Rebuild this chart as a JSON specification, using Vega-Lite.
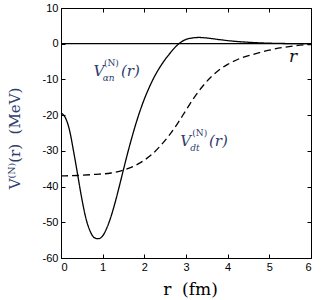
{
  "$schema": "https://vega.github.io/schema/vega-lite/v6.json",
  "width": 250,
  "height": 250,
  "autosize": "none",
  "padding": {"left": 61, "top": 8, "right": 16, "bottom": 42},
  "background": "white",
  "config": {
    "view": {"stroke": "#000", "strokeWidth": 1},
    "axis": {
      "grid": false,
      "domain": false,
      "tickColor": "#000",
      "tickSize": -4,
      "tickWidth": 1,
      "labelFont": "Liberation Sans",
      "labelFontSize": 11,
      "labelColor": "#000",
      "titleFont": "DejaVu Serif",
      "titleFontWeight": "normal",
      "titleColor": "#2e3d6e"
    }
  },
  "datasets": {
    "curves": [
      {"r": 0, "v": -19.5, "s": "an"},
      {"r": 0.05, "v": -19.8, "s": "an"},
      {"r": 0.1, "v": -20.6, "s": "an"},
      {"r": 0.2, "v": -24.0, "s": "an"},
      {"r": 0.3, "v": -30.0, "s": "an"},
      {"r": 0.4, "v": -36.7, "s": "an"},
      {"r": 0.5, "v": -43.4, "s": "an"},
      {"r": 0.6, "v": -49.0, "s": "an"},
      {"r": 0.7, "v": -52.5, "s": "an"},
      {"r": 0.8, "v": -54.3, "s": "an"},
      {"r": 0.9, "v": -54.6, "s": "an"},
      {"r": 1.0, "v": -53.8, "s": "an"},
      {"r": 1.1, "v": -51.6, "s": "an"},
      {"r": 1.2, "v": -48.4, "s": "an"},
      {"r": 1.3, "v": -44.4, "s": "an"},
      {"r": 1.4, "v": -39.9, "s": "an"},
      {"r": 1.5, "v": -35.2, "s": "an"},
      {"r": 1.6, "v": -30.6, "s": "an"},
      {"r": 1.7, "v": -26.3, "s": "an"},
      {"r": 1.8, "v": -22.3, "s": "an"},
      {"r": 1.9, "v": -18.7, "s": "an"},
      {"r": 2.0, "v": -15.5, "s": "an"},
      {"r": 2.1, "v": -12.7, "s": "an"},
      {"r": 2.2, "v": -10.2, "s": "an"},
      {"r": 2.3, "v": -8.0, "s": "an"},
      {"r": 2.4, "v": -6.1, "s": "an"},
      {"r": 2.5, "v": -4.4, "s": "an"},
      {"r": 2.6, "v": -2.9, "s": "an"},
      {"r": 2.7, "v": -1.5, "s": "an"},
      {"r": 2.8, "v": -0.3, "s": "an"},
      {"r": 2.9, "v": 0.6, "s": "an"},
      {"r": 3.0, "v": 1.2, "s": "an"},
      {"r": 3.15, "v": 1.6, "s": "an"},
      {"r": 3.3, "v": 1.75, "s": "an"},
      {"r": 3.5, "v": 1.6, "s": "an"},
      {"r": 3.8, "v": 1.15, "s": "an"},
      {"r": 4.1, "v": 0.75, "s": "an"},
      {"r": 4.5, "v": 0.4, "s": "an"},
      {"r": 4.9, "v": 0.18, "s": "an"},
      {"r": 5.3, "v": 0.07, "s": "an"},
      {"r": 5.7, "v": 0.02, "s": "an"},
      {"r": 6.0, "v": 0, "s": "an"},
      {"r": 0, "v": -37.0, "s": "dt"},
      {"r": 0.4, "v": -36.9, "s": "dt"},
      {"r": 0.8, "v": -36.6, "s": "dt"},
      {"r": 1.2, "v": -36.2, "s": "dt"},
      {"r": 1.5, "v": -35.4, "s": "dt"},
      {"r": 1.8, "v": -34.0, "s": "dt"},
      {"r": 2.0, "v": -32.6, "s": "dt"},
      {"r": 2.2, "v": -30.8, "s": "dt"},
      {"r": 2.4, "v": -28.4, "s": "dt"},
      {"r": 2.6, "v": -25.6, "s": "dt"},
      {"r": 2.8, "v": -22.3, "s": "dt"},
      {"r": 3.0, "v": -18.6, "s": "dt"},
      {"r": 3.2, "v": -15.0, "s": "dt"},
      {"r": 3.4, "v": -11.9, "s": "dt"},
      {"r": 3.6, "v": -9.3, "s": "dt"},
      {"r": 3.8, "v": -7.3, "s": "dt"},
      {"r": 4.0, "v": -5.8, "s": "dt"},
      {"r": 4.3, "v": -4.1, "s": "dt"},
      {"r": 4.7, "v": -2.7, "s": "dt"},
      {"r": 5.0, "v": -1.8, "s": "dt"},
      {"r": 5.3, "v": -1.1, "s": "dt"},
      {"r": 5.6, "v": -0.6, "s": "dt"},
      {"r": 6.0, "v": -0.2, "s": "dt"}
    ],
    "labels": [
      {"x": 0.78, "y": -9.0, "text": "V", "kind": "big"},
      {"x": 1.0, "y": -10.4, "text": "αn", "kind": "small"},
      {"x": 1.03, "y": -6.2, "text": "(N)", "kind": "smallup"},
      {"x": 1.44, "y": -9.0, "text": "(r)", "kind": "big"},
      {"x": 2.86, "y": -28.6, "text": "V", "kind": "big"},
      {"x": 3.1, "y": -30.0, "text": "dt", "kind": "small"},
      {"x": 3.15, "y": -25.8, "text": "(N)", "kind": "smallup"},
      {"x": 3.55, "y": -28.6, "text": "(r)", "kind": "big"},
      {"x": 5.47, "y": -5.1, "text": "r", "kind": "axis"}
    ]
  },
  "layer": [
    {
      "data": {"name": "curves"},
      "mark": {"type": "line", "color": "#000", "strokeWidth": 1.3, "interpolate": "monotone"},
      "encoding": {
        "x": {
          "field": "r", "type": "quantitative",
          "scale": {"domain": [0, 6], "nice": false, "zero": false},
          "axis": {"values": [0, 1, 2, 3, 4, 5, 6], "labelPadding": 7, "title": "r\u00a0\u00a0(fm)", "titleFontSize": 17, "titleFontWeight": "normal", "titleColor": "#000", "titleX": 129, "titleY": 36, "titleBaseline": "alphabetic"}
        },
        "y": {
          "field": "v", "type": "quantitative",
          "scale": {"domain": [-60, 10], "nice": false, "zero": false},
          "axis": {"values": [-60, -50, -40, -30, -20, -10, 0, 10], "labelPadding": 7, "labelExpr": "replace(datum.label, '−', '-')", "title": "V⁽ᴺ⁾(r)\u00a0\u00a0(MeV)", "titleFontSize": 15, "titleFontWeight": "normal", "titleX": -42, "titleY": 130, "titleBaseline": "alphabetic", "titleAlign": "center"}
        },
        "detail": {"field": "s"},
        "strokeDash": {"field": "s", "type": "nominal", "scale": {"domain": ["an", "dt"], "range": [[1, 0], [7, 4]]}, "legend": null}
      }
    },
    {
      "data": {"values": [{"y": 0}]},
      "mark": {"type": "rule", "color": "#000", "strokeWidth": 1.2},
      "encoding": {"y": {"field": "y", "type": "quantitative", "axis": {"orient": "right", "labels": false, "title": null, "values": [-60, -50, -40, -30, -20, -10, 0, 10]}}}
    },
    {
      "data": {"values": [{"x": 0}]},
      "mark": {"type": "point", "opacity": 0},
      "encoding": {"x": {"field": "x", "type": "quantitative", "axis": {"orient": "top", "labels": false, "title": null, "values": [0, 1, 2, 3, 4, 5, 6]}}}
    },
    {
      "data": {"name": "labels"},
      "transform": [{"filter": "datum.kind == 'big'"}],
      "mark": {"type": "text", "align": "left", "baseline": "alphabetic", "font": "DejaVu Serif", "fontStyle": "italic", "fontSize": 15, "color": "#2e3d6e"},
      "encoding": {
        "x": {"field": "x", "type": "quantitative", "axis": null},
        "y": {"field": "y", "type": "quantitative", "axis": null},
        "text": {"field": "text"}
      }
    },
    {
      "data": {"name": "labels"},
      "transform": [{"filter": "datum.kind == 'small'"}],
      "mark": {"type": "text", "align": "left", "baseline": "alphabetic", "font": "DejaVu Serif", "fontStyle": "italic", "fontSize": 9, "color": "#2e3d6e"},
      "encoding": {
        "x": {"field": "x", "type": "quantitative", "axis": null},
        "y": {"field": "y", "type": "quantitative", "axis": null},
        "text": {"field": "text"}
      }
    },
    {
      "data": {"name": "labels"},
      "transform": [{"filter": "datum.kind == 'smallup'"}],
      "mark": {"type": "text", "align": "left", "baseline": "alphabetic", "font": "DejaVu Serif", "fontSize": 9, "color": "#2e3d6e"},
      "encoding": {
        "x": {"field": "x", "type": "quantitative", "axis": null},
        "y": {"field": "y", "type": "quantitative", "axis": null},
        "text": {"field": "text"}
      }
    },
    {
      "data": {"name": "labels"},
      "transform": [{"filter": "datum.kind == 'axis'"}],
      "mark": {"type": "text", "align": "left", "baseline": "alphabetic", "font": "DejaVu Serif", "fontStyle": "italic", "fontSize": 17, "color": "#111"},
      "encoding": {
        "x": {"field": "x", "type": "quantitative", "axis": null},
        "y": {"field": "y", "type": "quantitative", "axis": null},
        "text": {"field": "text"}
      }
    }
  ],
  "resolve": {"axis": {"x": "independent", "y": "independent"}}
}
